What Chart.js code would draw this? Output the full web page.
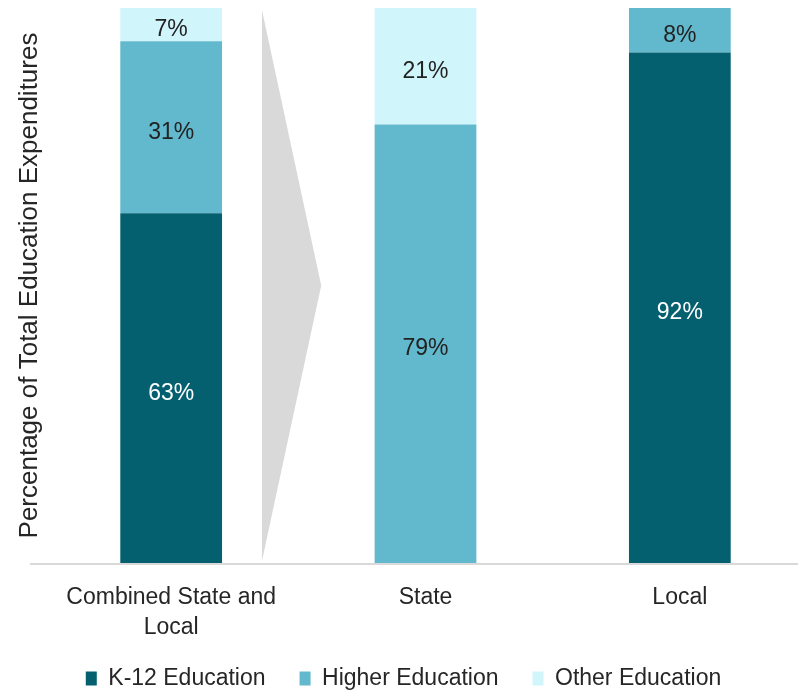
<!DOCTYPE html>
<html>
<head>
<meta charset="utf-8">
<script src="https://cdn.jsdelivr.net/npm/chart.js@4"></script>
<style>
	html, body { margin: 0; padding: 0; background: #fff; overflow: hidden; }
	#wrap { width: 807px; height: 690px; }
</style>
</head>
<body>
<div id="wrap"><canvas id="chart" width="807" height="690"></canvas></div>
<script>
const categories = [["Combined State and", "Local"], "State", "Local"];
const k12Values = [63, 0, 92];
const higherValues = [31, 79, 8];
const otherValues = [7, 21, 0];
const seriesNames = ["K-12 Education", "Higher Education", "Other Education"];
const seriesColors = ["#04606f", "#62b8cc", "#d0f5fb"];
const labelColors = ["#ffffff", "#222222", "#222222"];

const FONT = "'Liberation Sans', Arial, sans-serif";

// draws the % labels in the middle of each visible segment
const barLabels = {
	id: "barLabels",
	afterDatasetsDraw(chart) {
		const ctx = chart.ctx;
		const top = chart.chartArea.top;
		ctx.save();
		ctx.font = "23px " + FONT;
		ctx.textAlign = "center";
		ctx.textBaseline = "middle";
		chart.data.datasets.forEach((ds, i) => {
			chart.getDatasetMeta(i).data.forEach((bar, j) => {
				const v = ds.data[j];
				if (!v) return;
				const y = (Math.max(bar.y, top) + bar.base) / 2;
				ctx.fillStyle = labelColors[i];
				ctx.fillText(v + "%", bar.x, y + 5);
			});
		});
		ctx.restore();
	}
};

// grey arrow between the first and second bar, plus the base line
const decor = {
	id: "decor",
	afterLayout(chart) {
		// let the two-line tick label run into the legend space without being clipped
		chart.scales.x.bottom = chart.height;
	},
	beforeDatasetsDraw(chart) {
		const ctx = chart.ctx;
		const area = chart.chartArea;
		const x = chart.scales.x;
		const step = x.getPixelForValue(1) - x.getPixelForValue(0);
		const x0 = x.getPixelForValue(0);
		const left = x0 + step * 0.357;
		const tip = x0 + step * 0.59;
		ctx.save();
		ctx.fillStyle = "#d9d9d9";
		ctx.beginPath();
		ctx.moveTo(left, area.top + 2);
		ctx.lineTo(tip, (area.top + area.bottom) / 2);
		ctx.lineTo(left, area.bottom - 2);
		ctx.closePath();
		ctx.fill();
		ctx.strokeStyle = "#d9d9d9";
		ctx.lineWidth = 2;
		ctx.beginPath();
		ctx.moveTo(30, area.bottom + 1);
		ctx.lineTo(chart.width, area.bottom + 1);
		ctx.stroke();
		ctx.restore();
	}
};

new Chart(document.getElementById("chart"), {
	type: "bar",
	data: {
		labels: categories,
		datasets: [
			{ label: seriesNames[0], data: k12Values, backgroundColor: seriesColors[0] },
			{ label: seriesNames[1], data: higherValues, backgroundColor: seriesColors[1] },
			{ label: seriesNames[2], data: otherValues, backgroundColor: seriesColors[2] }
		]
	},
	options: {
		responsive: false,
		animation: false,
		layout: { padding: { top: 8, right: 0, left: 0, bottom: -10 } },
		datasets: { bar: { barPercentage: 0.4, categoryPercentage: 1, borderWidth: 0 } },
		scales: {
			x: {
				stacked: true,
				grid: { display: false, drawTicks: false },
				border: { display: false },
				ticks: { color: "#262626", font: { family: FONT, size: 23, lineHeight: 1.3 }, padding: 20 },
				afterFit: s => { s.height = 70; }
			},
			y: {
				stacked: true,
				min: 0,
				max: 100,
				grid: { display: false, drawTicks: false },
				border: { display: false },
				ticks: { display: false },
				title: { display: true, text: "Percentage of Total Education Expenditures", color: "#262626", font: { family: FONT, size: 26 }, padding: { top: 14, bottom: 0 } },
				afterFit: s => { s.width = 44; }
			}
		},
		plugins: {
			legend: {
				position: "bottom",
				labels: {
					color: "#262626",
					font: { family: FONT, size: 23 },
					boxWidth: 11,
					boxHeight: 14,
					padding: 34
				}
			},
			tooltip: { enabled: false }
		}
	},
	plugins: [decor, barLabels]
});
</script>
</body>
</html>
